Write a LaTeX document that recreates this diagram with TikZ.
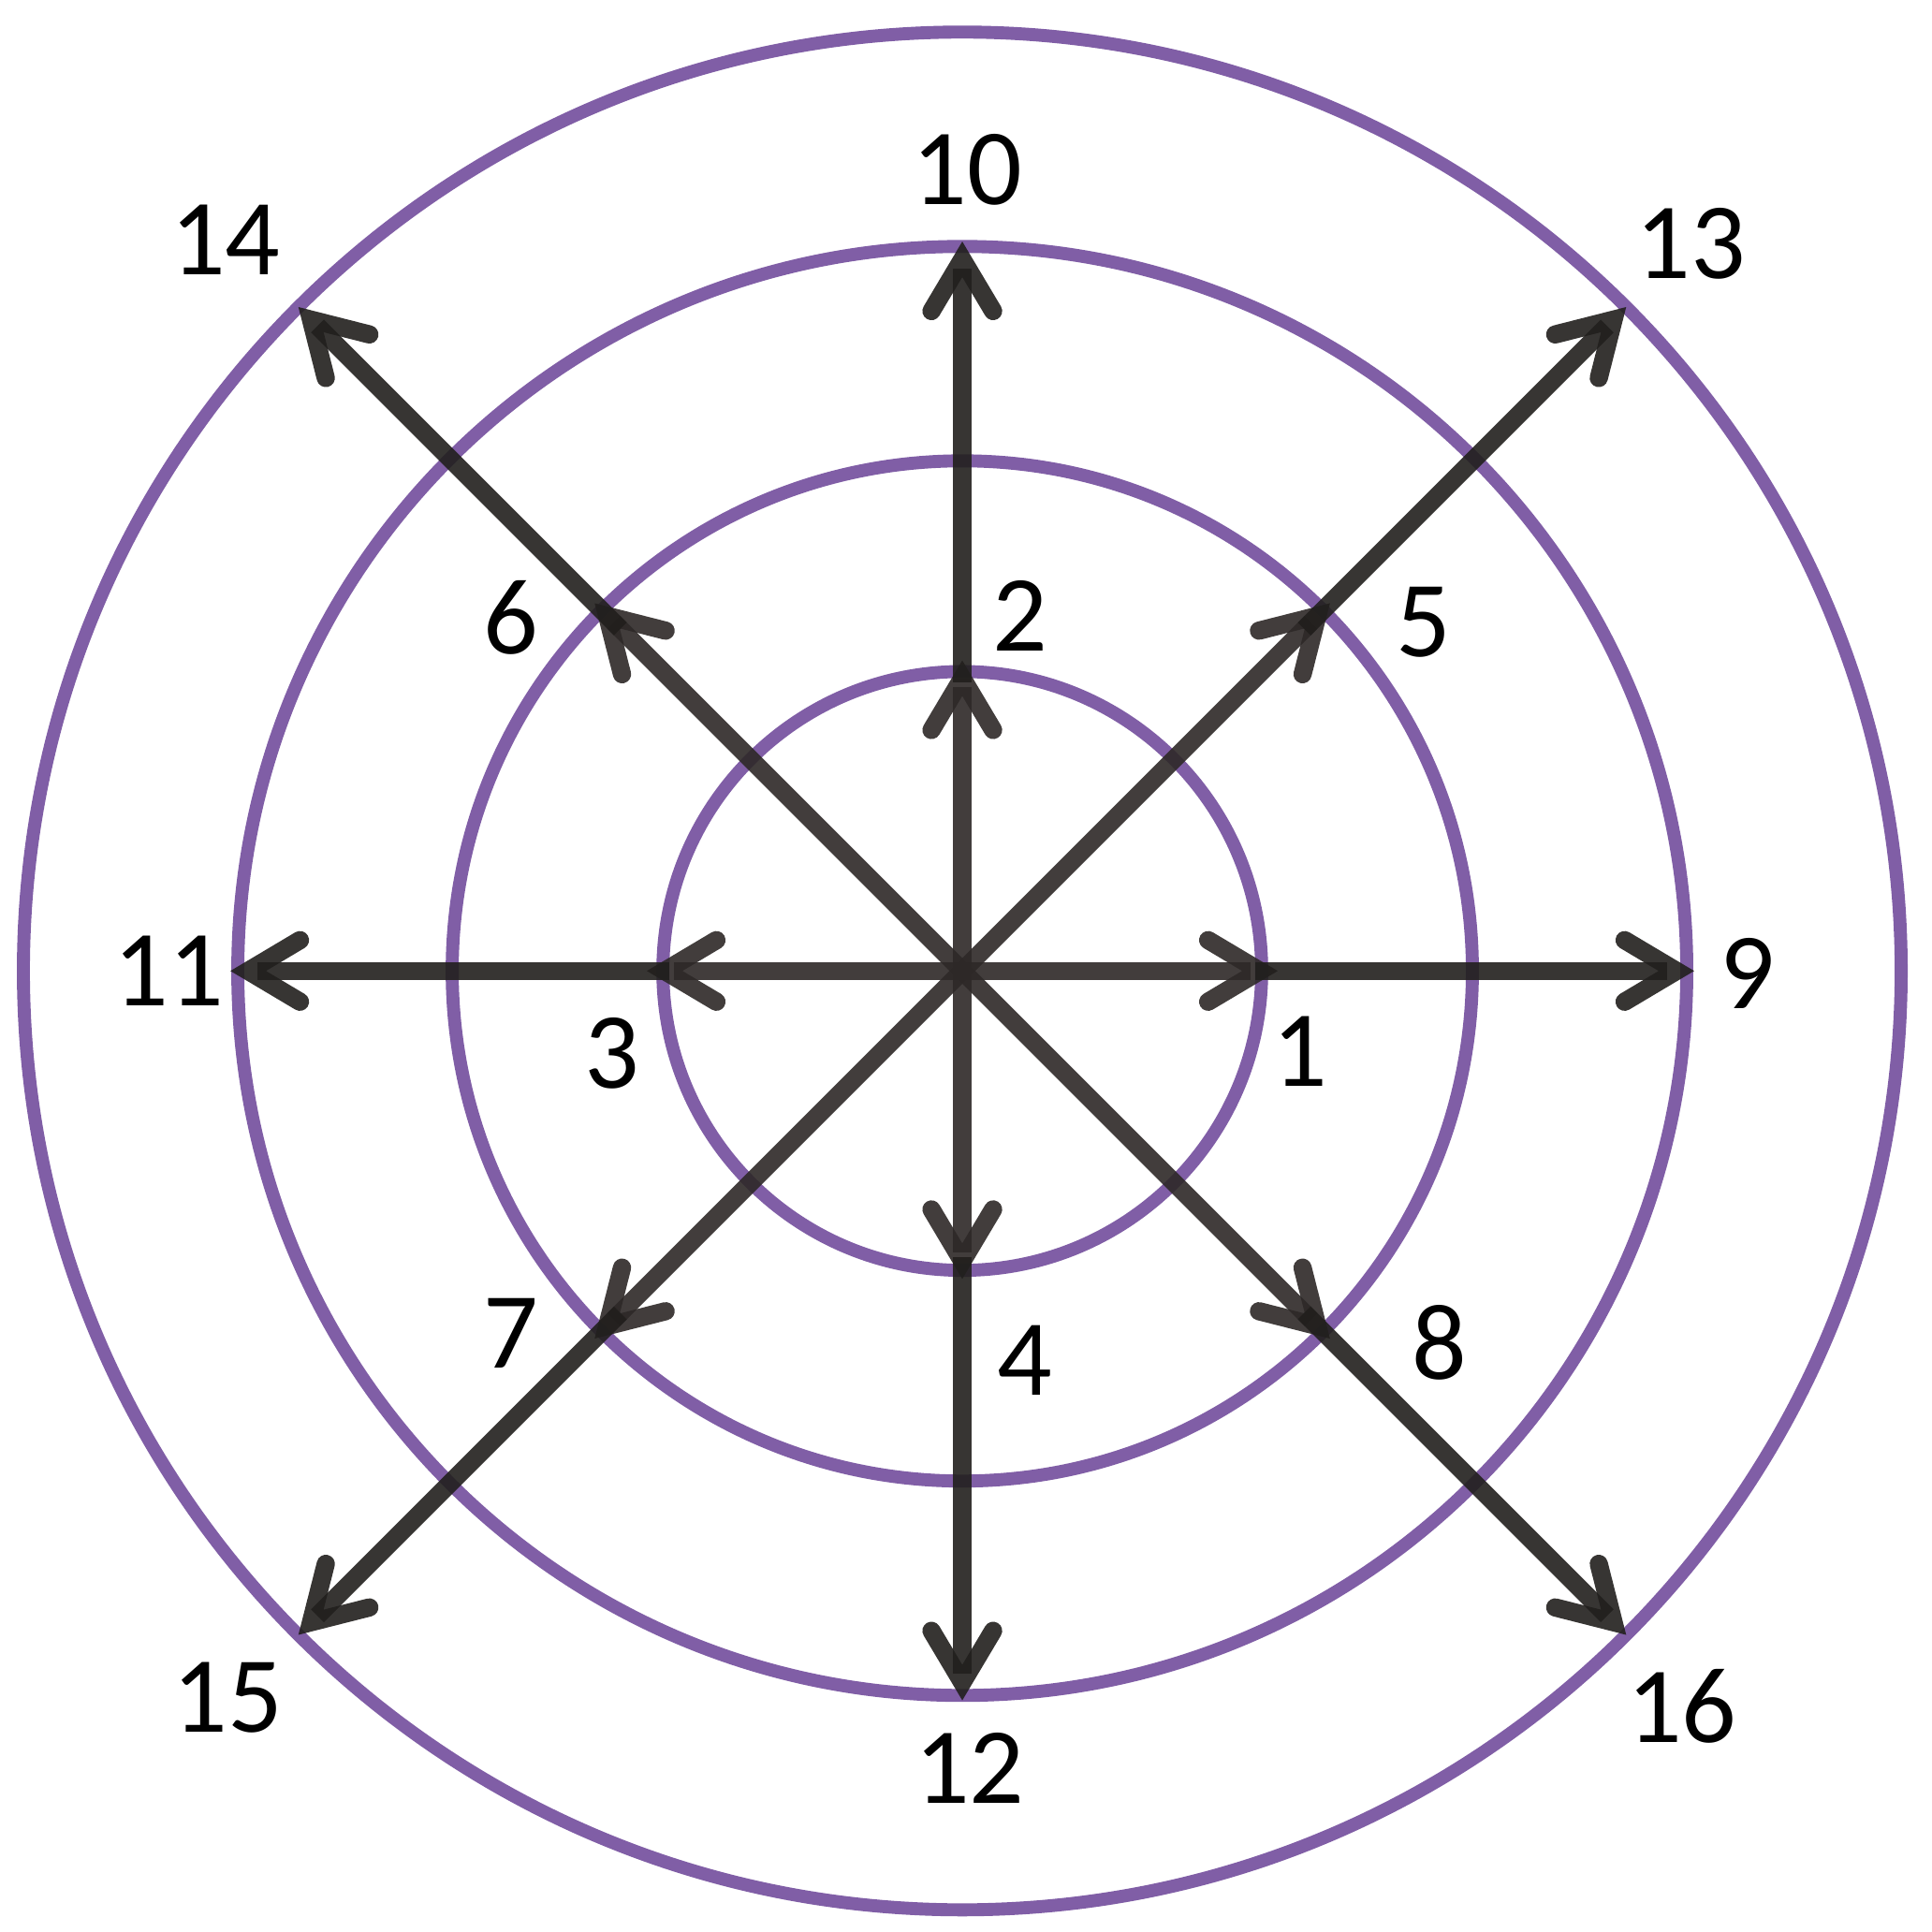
\documentclass[tikz,border=0pt]{standalone}
\usepackage{fontspec}
\setmainfont{Carlito}
\usetikzlibrary{arrows.meta,calc}
\definecolor{ringcol}{RGB}{128,94,166}
\definecolor{shortcol}{RGB}{45,40,39}
\definecolor{longcol}{RGB}{33,31,29}
\tikzset{
>={Straight Barb[length=0.42cm,width=0.5cm,line cap=round,line join=miter]},
  ring/.style={draw=ringcol, line width=3pt},
  shortarrow/.style={draw=shortcol, opacity=0.9, line width=4.2pt, ->},
  longarrow/.style={draw=longcol, opacity=0.9, line width=4.2pt, ->},
  num/.style={font=\fontsize{25}{30}\selectfont, inner sep=0pt},
}
\begin{document}
\begin{tikzpicture}[x=0.01cm, y=0.01cm]
  \useasboundingbox (-781,-780) rectangle (787,788);
  \coordinate (o) at (0,0);
  \foreach \r in {243,414,588,762}
    \draw[ring] (o) circle (\r);

  % tips: 1-4 and 9-12 on the axes, 5-8 and 13-16 on the diagonals
  \coordinate (t1) at (0:256);
  \coordinate (t2) at (90:252);
  \coordinate (t3) at (180:256);
  \coordinate (t4) at (270:250);
  \coordinate (t5) at (45:422);
  \coordinate (t6) at (135:422);
  \coordinate (t7) at (225:422);
  \coordinate (t8) at (315:422);
  \coordinate (t9) at (0:594);
  \coordinate (t10) at (90:592);
  \coordinate (t11) at (180:594);
  \coordinate (t12) at (270:592);
  \coordinate (t13) at (45:762);
  \coordinate (t14) at (135:762);
  \coordinate (t15) at (225:762);
  \coordinate (t16) at (315:762);

  % long arrows start a little inside the short tips
  \foreach \i in {1,...,8}
    \coordinate (s\i) at ($(o)!0.93!(t\i)$);

  \foreach \i in {1,...,8}
    \path[shortarrow] (o) -- (t\i);
  \foreach \i/\j in {1/9,2/10,3/11,4/12,5/13,6/14,7/15,8/16}
    \path[longarrow] (s\i) -- (t\j);

  \node[num] (lab1) at (274,-65) {1};
  \node[num] (lab2) at (47,288) {2};
  \node[num] (lab3) at (-284,-67) {3};
  \node[num] (lab4) at (51,-316) {4};
  \node[num] (lab5) at (374,283) {5};
  \node[num] (lab6) at (-366,287) {6};
  \node[num] (lab7) at (-366,-294) {7};
  \node[num] (lab8) at (387,-302) {8};
  \node[num] (lab9) at (637,-2) {9};
  \node[num] (lab10) at (4,650) {10};
  \node[num] (lab11) at (-644,0) {11};
  \node[num] (lab12) at (6,-647) {12};
  \node[num] (lab13) at (591,590) {13};
  \node[num] (lab14) at (-598,593) {14};
  \node[num] (lab15) at (-596,-590) {15};
  \node[num] (lab16) at (584,-597) {16};
\end{tikzpicture}
\end{document}
